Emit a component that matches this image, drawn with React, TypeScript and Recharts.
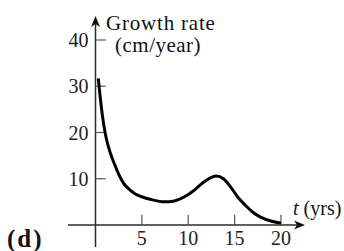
import React from 'react';
import { LineChart, Line, XAxis, YAxis, ReferenceLine, ReferenceDot } from 'recharts';

// growth rate (cm/year), by age t (years)
const years = [0.3, 0.5, 0.75, 1, 1.25, 1.5, 2, 2.5, 3, 3.7, 4.3, 5, 6, 7.5, 8.5, 9.6, 10.5, 11.5, 12.3, 13, 13.8, 14.5, 15.4, 16.3, 17, 17.8, 19, 20];
const rates = [31.7, 27.8, 23.6, 20.4, 18.0, 16.2, 13.4, 11.0, 9.1, 7.6, 6.7, 6.1, 5.5, 5.0, 5.2, 6.1, 7.3, 9.0, 10.1, 10.6, 10.0, 8.4, 5.9, 4.0, 2.7, 1.7, 0.8, 0.4];

const xTicks = [5, 10, 15, 20];
const yTicks = [10, 20, 30, 40];

const data = years.map((t, i) => ({ t, rate: rates[i] }));

const font = '"Liberation Serif", "Times New Roman", serif';
const axisColor = '#2b2b2b';
const tickColor = '#555';

const HorizontalArrow = (props: any) => {
  const { x1, x2, y1 } = props;
  const start = Math.min(x1, x2);
  const end = Math.max(x1, x2);
  return (
    <g>
      <line x1={start} y1={y1} x2={end - 6} y2={y1} stroke={axisColor} strokeWidth={1.5} />
      <path d={`M${end},${y1} L${end - 11},${y1 - 4.5} L${end - 8},${y1} L${end - 11},${y1 + 4.5} Z`} fill="#111" />
    </g>
  );
};

const VerticalArrow = (props: any) => {
  const { x1, y1, y2 } = props;
  const top = Math.min(y1, y2);
  const bottom = Math.max(y1, y2);
  return (
    <g>
      <line x1={x1} y1={top + 6} x2={x1} y2={bottom} stroke={axisColor} strokeWidth={1.5} />
      <path d={`M${x1},${top} L${x1 - 4.5},${top + 11} L${x1},${top + 8} L${x1 + 4.5},${top + 11} Z`} fill="#111" />
    </g>
  );
};

const tickLabel = { fontSize: 20, fill: '#222', fontFamily: font };

export default function App() {
  return (
    <div style={{ position: 'absolute', left: 0, top: 0, width: 344, height: 251 }}>
      <LineChart width={344} height={251} data={data} margin={{ top: 16, right: 39, bottom: 4, left: 68 }}>
        <XAxis type="number" dataKey="t" domain={[-2.965, 22.59]} allowDataOverflow hide />
        <YAxis type="number" domain={[-4.76, 45.19]} allowDataOverflow hide />

        <ReferenceLine y={0} shape={HorizontalArrow} />
        <ReferenceLine x={0} shape={VerticalArrow} />

        {xTicks.map((t) => (
          <ReferenceLine key={`xt${t}`} segment={[{ x: t, y: 0 }, { x: t, y: 2.2 }]} stroke={tickColor} strokeWidth={1.2} />
        ))}
        {yTicks.map((v) => (
          <ReferenceLine key={`yt${v}`} segment={[{ x: 0, y: v }, { x: 1.1, y: v }]} stroke={tickColor} strokeWidth={1.2} />
        ))}
        {xTicks.map((t) => (
          <ReferenceDot
            key={`xl${t}`}
            x={t}
            y={0}
            r={0}
            fill="none"
            stroke="none"
            label={{ value: String(t), position: 'bottom', offset: 6, ...tickLabel }}
          />
        ))}
        {yTicks.map((v) => (
          <ReferenceDot
            key={`yl${v}`}
            x={0}
            y={v}
            r={0}
            fill="none"
            stroke="none"
            label={{ value: String(v), position: 'left', offset: 7, ...tickLabel }}
          />
        ))}

        <Line
          type="monotone"
          dataKey="rate"
          stroke="#000"
          strokeWidth={3}
          dot={false}
          activeDot={false}
          isAnimationActive={false}
        />
      </LineChart>
      <svg width={344} height={251} style={{ position: 'absolute', left: 0, top: 0, pointerEvents: 'none' }}>
        <g fontFamily={font} fill="#111">
          <text x={106} y={30} fontSize={21} letterSpacing={0.8}>Growth rate</text>
          <text x={115} y={52} fontSize={21} letterSpacing={0.5}>(cm/year)</text>
          <text x={293} y={215} fontSize={20}>
            <tspan fontStyle="italic">t</tspan> (yrs)
          </text>
          <text x={7} y={247} fontSize={25} fontWeight="bold" letterSpacing={2}>(d)</text>
        </g>
      </svg>
    </div>
  );
}
